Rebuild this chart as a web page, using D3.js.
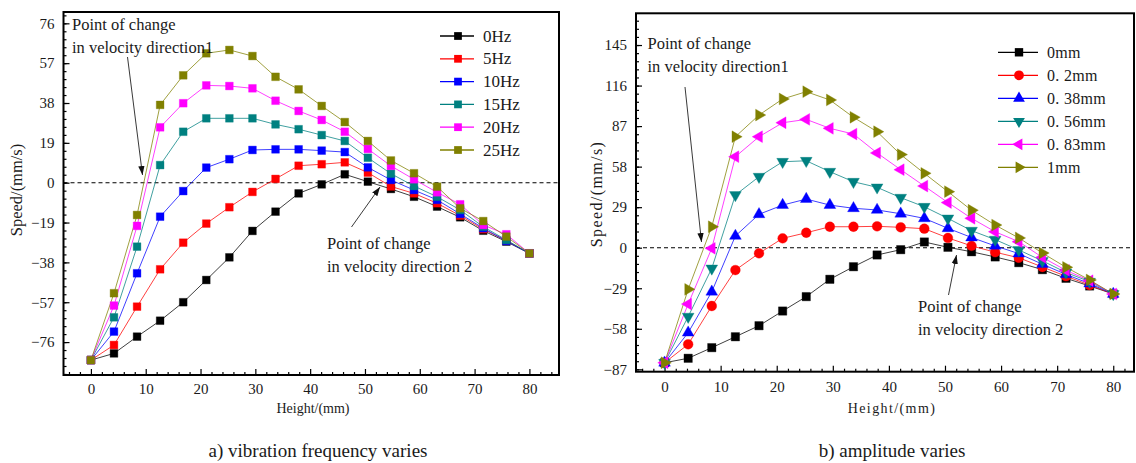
<!DOCTYPE html>
<html><head><meta charset="utf-8">
<script src="https://cdn.jsdelivr.net/npm/d3@7"></script>
<style>
body{margin:0;background:#fff;}
svg{display:block;}
svg text{font-family:"Liberation Serif","Times New Roman",Times,serif !important;fill:#1a1a1a;}
</style></head>
<body>
<svg id="c" width="1136" height="463"></svg>
<script>
// ---------- data ----------
const heights = d3.range(20).map(i => i * 80 / 19);

const freqLabels = ["0Hz","5Hz","10Hz","15Hz","20Hz","25Hz"];
const hz0  = [-84.6,-81.4,-73.4,-65.8,-57.0,-46.4,-35.6,-23.0,-13.8,-5.1,-0.8,4.0,0.5,-3.0,-6.7,-11.4,-16.5,-22.9,-28.1,-33.7];
const hz5  = [-84.6,-77.4,-59.1,-41.3,-28.6,-19.5,-11.7,-4.4,1.8,8.1,8.8,9.7,4.8,-1.8,-5.1,-9.8,-15.7,-22.2,-27.6,-33.7];
const hz10 = [-84.6,-71.0,-43.2,-16.2,-4.0,7.2,11.2,15.6,15.9,15.9,15.3,14.6,7.3,1.3,-3.5,-8.2,-14.9,-21.7,-27.8,-33.7];
const hz15 = [-84.6,-64.2,-30.5,8.4,24.3,30.7,30.7,30.7,27.8,25.5,22.7,19.9,11.9,4.3,-1.6,-6.7,-13.0,-21.0,-27.3,-33.7];
const hz20 = [-84.6,-58.6,-20.6,26.4,37.9,46.4,46.1,45.0,39.1,34.2,29.9,24.3,16.1,8.0,1.6,-4.6,-10.3,-20.2,-24.6,-33.7];
const hz25 = [-84.6,-52.7,-15.4,37.1,51.2,61.7,63.3,60.4,50.5,44.5,36.6,28.9,19.9,10.6,4.5,-1.9,-12.2,-18.3,-25.7,-33.7];

const ampLabels = ["0mm","0. 2mm","0. 38mm","0. 56mm","0. 83mm","1mm"];
const mm0   = [-82.3,-79.1,-71.5,-63.7,-55.8,-45.3,-35.0,-22.6,-13.6,-5.2,-1.4,4.1,0.3,-2.9,-6.6,-10.7,-15.7,-21.9,-27.4,-33.1];
const mm02  = [-82.3,-69.1,-41.7,-16.0,-4.0,6.7,10.7,15.0,15.0,15.3,14.6,13.6,7.0,1.3,-3.2,-7.2,-13.8,-20.4,-26.7,-33.1];
const mm038 = [-82.3,-60.8,-31.5,8.4,23.9,30.5,34.8,30.5,28.2,27.0,24.3,21.0,13.9,7.3,1.3,-4.2,-11.8,-19.1,-25.7,-33.1];
const mm056 = [-82.3,-49.3,-14.8,37.7,50.8,61.5,62.2,54.4,47.2,43.2,35.8,29.3,21.0,12.2,5.8,-1.6,-9.4,-17.7,-24.3,-33.1];
const mm083 = [-82.3,-40.3,-0.4,65.1,79.4,89.4,91.8,85.4,81.3,67.8,55.8,44.1,32.3,21.0,11.4,4.3,-6.9,-16.2,-23.6,-33.1];
const mm1   = [-82.3,-29.8,15.0,79.4,94.9,106.4,111.6,105.7,93.3,83.0,66.6,53.2,40.1,26.8,16.2,7.0,-3.8,-14.0,-23.1,-33.1];

const xTicks = [0,10,20,30,40,50,60,70,80];
const yTicksA = [-76,-57,-38,-19,0,19,38,57,76];
const yTicksB = [-87,-58,-29,0,29,58,87,116,145];
const colors = ["#000000","#ff0000","#0000ff","#008080","#ff00ff","#808000"];

const svg = d3.select("#c");

svg.append("defs").append("marker").attr("id","ah").attr("viewBox","0 0 10 10")
  .attr("refX",10).attr("refY",5).attr("markerWidth",9).attr("markerHeight",9)
  .attr("markerUnits","userSpaceOnUse").attr("orient","auto")
  .append("path").attr("d","M0,1.5 L10,5 L0,8.5 Z").attr("fill","#111");

function panel(cfg){
  const g = svg.append("g");
  const x = d3.scaleLinear().domain(cfg.xd).range([cfg.L, cfg.R]);
  const y = d3.scaleLinear().domain(cfg.yd).range([cfg.B, cfg.T]);

  g.append("line").attr("x1",cfg.L).attr("x2",cfg.R).attr("y1",y(0)).attr("y2",y(0))
    .attr("stroke","#000").attr("stroke-width",1.1).attr("stroke-dasharray","4,3");

  const xMinor = d3.range(-4, 86, 2).filter(v => v>cfg.xd[0] && v<cfg.xd[1] && v%10!==0);
  const xa = g.append("g").attr("transform",`translate(0,${cfg.B})`);
  xa.call(d3.axisBottom(x).tickValues(xMinor).tickSize(-3).tickFormat(""));
  const xb = g.append("g").attr("transform",`translate(0,${cfg.B})`);
  xb.call(d3.axisBottom(x).tickValues(xTicks).tickSize(-6).tickPadding(cfg.xPad).tickFormat(d3.format("d")));
  const yMinor = d3.range(-40, 41).map(k => k*cfg.ystep/5).filter(v => v>cfg.yd[0] && v<cfg.yd[1]);
  const ya = g.append("g").attr("transform",`translate(${cfg.L},0)`);
  ya.call(d3.axisLeft(y).tickValues(yMinor).tickSize(-3).tickFormat(""));
  const yb = g.append("g").attr("transform",`translate(${cfg.L},0)`);
  yb.call(d3.axisLeft(y).tickValues(cfg.yTicks).tickSize(-6).tickPadding(9).tickFormat(d => d<0 ? "\u2212"+(-d) : d));
  [xa,xb,ya,yb].forEach(a => { a.select(".domain").remove(); a.selectAll("line").attr("stroke","#000").attr("stroke-width",1.2); });
  [xb,yb].forEach(a => { a.attr("font-family",null).attr("font-size",null);
    a.selectAll("text").style("font-size","15px").attr("fill","#222"); });

  g.append("rect").attr("x",cfg.L).attr("y",cfg.T).attr("width",cfg.R-cfg.L).attr("height",cfg.B-cfg.T)
    .attr("fill","none").attr("stroke","#000").attr("stroke-width",2);

  const line = d3.line().x((d,i)=>x(heights[i])).y(d=>y(d));
  cfg.series.forEach((s,k)=>{
    g.append("path").datum(s).attr("d",line).attr("fill","none")
      .attr("stroke",colors[k]).attr("stroke-width",1).attr("stroke-opacity",0.75);
  });
  cfg.series.forEach((s,k)=>{
    const sym = cfg.symbols[k];
    g.selectAll(null).data(s).enter().append("path")
      .attr("d", d3.symbol().type(sym.type).size(sym.size)())
      .attr("transform",(d,i)=>`translate(${x(heights[i])},${y(d)}) rotate(${sym.rot})`)
      .attr("fill",colors[k]).attr("stroke",colors[k]).attr("stroke-opacity",0.35).attr("stroke-width",1);
  });

  cfg.labels.forEach((lab,k)=>{
    const ly = cfg.legY + k*cfg.legDy;
    g.append("line").attr("x1",cfg.legX).attr("x2",cfg.legX+cfg.legW).attr("y1",ly).attr("y2",ly)
      .attr("stroke",colors[k]).attr("stroke-width",1.3);
    const sym = cfg.symbols[k];
    g.append("path").attr("d", d3.symbol().type(sym.type).size(sym.size)())
      .attr("transform",`translate(${cfg.legX+cfg.legW/2+1},${ly}) rotate(${sym.rot})`).attr("fill",colors[k]);
    g.append("text").attr("x",cfg.legX+cfg.legW+9).attr("y",ly+5.5).attr("font-size",cfg.legFont)
      .style("letter-spacing",cfg.legLS).text(lab);
  });

  g.append("text").attr("x",cfg.xtX).attr("y",cfg.xtY).attr("text-anchor","middle").attr("font-size",14)
    .style("letter-spacing",cfg.titleLS).text("Height/(mm)");
  g.append("text").attr("transform",`translate(${cfg.ytX},${cfg.ytY}) rotate(-90)`).attr("text-anchor","middle")
    .attr("font-size",cfg.ytFont).style("letter-spacing",cfg.ytLS).text("Speed/(mm/s)");
  g.append("text").attr("x",cfg.capX).attr("y",cfg.capY).attr("text-anchor","middle").attr("font-size",19).text(cfg.caption);

  cfg.notes.forEach(n=>{
    g.append("text").attr("x",n.tx).attr("y",n.ty).attr("font-size",16.5).text("Point of change");
    g.append("text").attr("x",n.tx).attr("y",n.ty+23).attr("font-size",16.5).text(n.l2);
    g.append("line").attr("x1",n.a[0]).attr("y1",n.a[1]).attr("x2",n.a[2]).attr("y2",n.a[3])
      .attr("stroke","#222").attr("stroke-width",0.9).attr("marker-end","url(#ah)");
  });
}

const sq = {type:d3.symbolSquare,size:60,rot:0};
panel({
  L:63.5,R:559,T:12,B:375,xd:[-5,85.4],yd:[-91.7,81.4],yTicks:yTicksA,ystep:19,xPad:8,
  series:[hz0,hz5,hz10,hz15,hz20,hz25],labels:freqLabels,
  symbols:[sq,sq,sq,sq,sq,sq],
  legX:440,legY:36,legDy:22.8,legW:34,legFont:17,legLS:"0px",titleLS:"0px",ytFont:16.5,ytLS:"0px",
  xtX:313,xtY:413,ytX:22,ytY:190,capX:318,capY:457,caption:"a) vibration frequency varies",
  notes:[{tx:72,ty:29.5,l2:"in velocity direction1",a:[127.5,57,142.5,175]},
         {tx:327,ty:248.5,l2:"in velocity direction 2",a:[351.5,227,380,187]}]
});

panel({
  L:636,R:1134,T:13.3,B:371.7,xd:[-5.09,83.7],yd:[-88.7,167.7],yTicks:yTicksB,ystep:29,xPad:10,
  series:[mm0,mm02,mm038,mm056,mm083,mm1],labels:ampLabels,
  symbols:[{type:d3.symbolSquare,size:70,rot:0},{type:d3.symbolCircle,size:75,rot:0},
           {type:d3.symbolTriangle,size:60,rot:0},{type:d3.symbolTriangle,size:60,rot:180},
           {type:d3.symbolTriangle,size:60,rot:-90},{type:d3.symbolTriangle,size:60,rot:90}],
  legX:998,legY:52.3,legDy:23,legW:40,legFont:16,legLS:"0.3px",titleLS:"1.4px",ytFont:16,ytLS:"1.4px",
  xtX:892,xtY:413,ytX:602,ytY:194,capX:892,capY:457,caption:"b) amplitude varies",
  notes:[{tx:647.5,ty:48.5,l2:"in velocity direction1",a:[685,87,701.5,242]},
         {tx:918,ty:311.5,l2:"in velocity direction 2",a:[948.5,295,956.5,255]}]
});
</script>
</body></html>
